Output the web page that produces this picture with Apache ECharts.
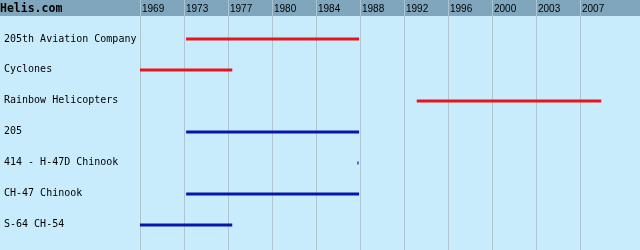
<!DOCTYPE html>
<html>
<head>
<meta charset="utf-8">
<script src="https://cdn.jsdelivr.net/npm/echarts@6/dist/echarts.min.js"></script>
<style>html,body{margin:0;padding:0;background:#c8ecfc;}#c{width:640px;height:250px;}</style>
</head>
<body>
<div id="c"></div>
<script>
// ---- data ----
var titleText = 'Helis.com';
var categories = ['205th Aviation Company', 'Cyclones', 'Rainbow Helicopters', '205', '414 - H-47D Chinook', 'CH-47 Chinook', 'S-64 CH-54'];
var startYears = [1973, 1969, 1993, 1973, 1987.85, 1973, 1969];
var endYears   = [1988, 1977, 2009, 1988, 1987.95, 1988, 1977];
var groups     = ['unit', 'unit', 'unit', 'type', 'type', 'type', 'type'];
var tickLabels = ['1969', '1973', '1977', '1980', '1984', '1988', '1992', '1996', '2000', '2003', '2007'];
var axisStartYear = 1969;
var yearsPerTick = 3.8157;
var ticksShown = 10.9;

var groupColors = {unit: '#e8141c', type: '#0a14a8'};
var seriesData = categories.map(function (c, i) {
  return {value: [startYears[i], endYears[i], i], itemStyle: {color: groupColors[groups[i]]}};
});

var chart = echarts.init(document.getElementById('c'), null, {renderer: 'canvas'});
chart.setOption({
  backgroundColor: '#c8ecfc',
  animation: false,
  title: {
    text: titleText, left: 0, top: 3, padding: 0,
    textStyle: {fontFamily: 'DejaVu Sans Mono', fontWeight: 'bold', fontSize: 11.5, color: '#000'}
  },
  graphic: [{
    type: 'rect', left: 0, top: 0, z: -10, silent: true,
    shape: {width: 640, height: 16},
    style: {fill: '#80a6bd'}
  }],
  grid: [
    {left: 140, right: 20.4, top: 0, bottom: 0},
    {left: 140, right: 20.4, top: 23.5, bottom: 10}
  ],
  xAxis: [
    {
      gridIndex: 0, type: 'value', position: 'top', min: 0, max: ticksShown, interval: 1,
      axisLine: {show: false}, axisTick: {show: false},
      splitLine: {show: true, showMaxLine: false, lineStyle: {color: '#aec4d0', width: 1}},
      axisLabel: {
        inside: true, margin: 4, align: 'left', verticalAlign: 'top', padding: [0, 0, 0, 2],
        showMaxLabel: false,
        fontFamily: 'Liberation Sans', fontSize: 10, color: '#000',
        formatter: function (v) { var k = Math.round(v); return tickLabels[k] !== undefined && Math.abs(v - k) < 1e-6 ? tickLabels[k] : ''; }
      }
    },
    {
      gridIndex: 1, type: 'value', show: false,
      min: axisStartYear, max: axisStartYear + ticksShown * yearsPerTick,
      splitLine: {show: false}
    }
  ],
  yAxis: [
    {gridIndex: 0, type: 'value', show: false, min: 0, max: 1, splitLine: {show: false}},
    {
      gridIndex: 1, type: 'category', data: categories, inverse: true,
      axisLine: {show: false}, axisTick: {show: false}, splitLine: {show: false},
      axisLabel: {margin: 136, align: 'left', fontFamily: 'DejaVu Sans Mono', fontSize: 10, color: '#000'}
    }
  ],
  series: [{
    type: 'custom', xAxisIndex: 1, yAxisIndex: 1,
    data: seriesData,
    encode: {x: [0, 1], y: 2},
    renderItem: function (params, api) {
      var s = api.coord([api.value(0), api.value(2)]);
      var e = api.coord([api.value(1), api.value(2)]);
      return {
        type: 'rect',
        shape: {x: s[0], y: Math.round(s[1]) - 1.5, width: Math.max(e[0] - s[0], 1), height: 3},
        style: {fill: api.visual('color')}
      };
    }
  }]
});
</script>
</body>
</html>
